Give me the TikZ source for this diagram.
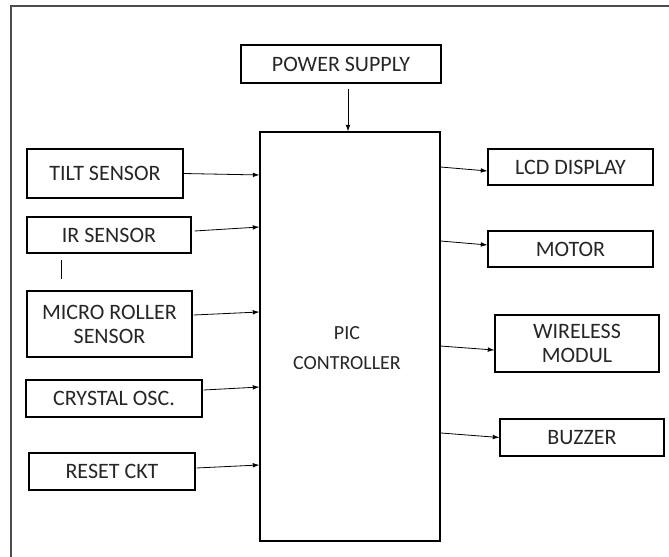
\documentclass[tikz,border=0pt]{standalone}
\usepackage{fontspec}
\setmainfont{Carlito}
\usetikzlibrary{arrows.meta}
\begin{document}
\begin{tikzpicture}[x=0.75pt,y=-0.75pt,
  blk/.style={draw,line width=0.8pt,inner sep=0pt,text=black!85,align=center,
    font=\fontsize{16.5}{18}\selectfont},
  arr/.style={-{Latex[length=5pt,width=3.5pt]},line width=0.6pt}]
  \useasboundingbox (0,0) rectangle (669,557);
  \draw[line width=1.3pt,black!70] (11,557) -- (11,6) -- (669,6);
  \node[blk,minimum width=150pt,minimum height=28.5pt] (power) at (341,64) {POWER SUPPLY};
  \node[blk,minimum width=135pt,minimum height=306.75pt] (pic) at (350,336.5) {};
  \node[text=black!85,align=center,font=\fontsize{15}{22.5}\selectfont] (pictxt) at (347,348) {PIC\\CONTROLLER};
  \node[blk,minimum width=117pt,minimum height=36.75pt] (tilt) at (105,173.5) {TILT SENSOR};
  \node[blk,minimum width=123pt,minimum height=27pt] (ir) at (109,235) {IR SENSOR};
  \node[blk,minimum width=123.75pt,minimum height=49.5pt] (micro) at (109.5,324) {MICRO ROLLER\\SENSOR};
  \node[blk,minimum width=132pt,minimum height=27.75pt] (crystal) at (114,398.5) {CRYSTAL OSC.};
  \node[blk,minimum width=124.5pt,minimum height=27.75pt] (reset) at (112,471.5) {RESET CKT};
  \node[blk,minimum width=123.75pt,minimum height=27pt] (lcd) at (570.5,167) {LCD DISPLAY};
  \node[blk,minimum width=123.75pt,minimum height=27pt] (motor) at (570.5,249) {MOTOR};
  \node[blk,minimum width=123pt,minimum height=42.75pt] (wireless) at (577,343.5) {WIRELESS\\MODUL};
  \node[blk,minimum width=123pt,minimum height=27.75pt] (buzzer) at (582,437.5) {BUZZER};
  \draw[arr] ([shift={(7,5)}]power.south) -- ([xshift=-1.5pt]pic.north);
  \draw[arr] (tilt.east) -- ([yshift=-1.1pt]tilt.east -| pic.west);
  \draw[arr] ([shift={(3,-4)}]ir.east) -- ([yshift=6pt]ir.east -| pic.west);
  \draw[arr] ([shift={(1,-9)}]micro.east) -- ([yshift=9pt]micro.east -| pic.west);
  \draw[arr] ([shift={(1,-8.5)}]crystal.east) -- ([yshift=8.6pt]crystal.east -| pic.west);
  \draw[arr] ([shift={(1,-3.5)}]reset.east) -- ([yshift=4.9pt]reset.east -| pic.west);
  \draw[arr] (lcd.west -| pic.east) -- ([yshift=-3pt]lcd.west);
  \draw[arr] ([yshift=6pt]motor.west -| pic.east) -- ([yshift=3pt]motor.west);
  \draw[arr] ([yshift=-1.9pt]wireless.west -| pic.east) -- ([yshift=-4.9pt]wireless.west);
  \draw[arr] ([yshift=3.4pt]buzzer.west -| pic.east) -- (buzzer.west);
  \draw[line width=0.8pt] ([shift={(35,6)}]ir.south west) -- ++(0,19);
\end{tikzpicture}
\end{document}
